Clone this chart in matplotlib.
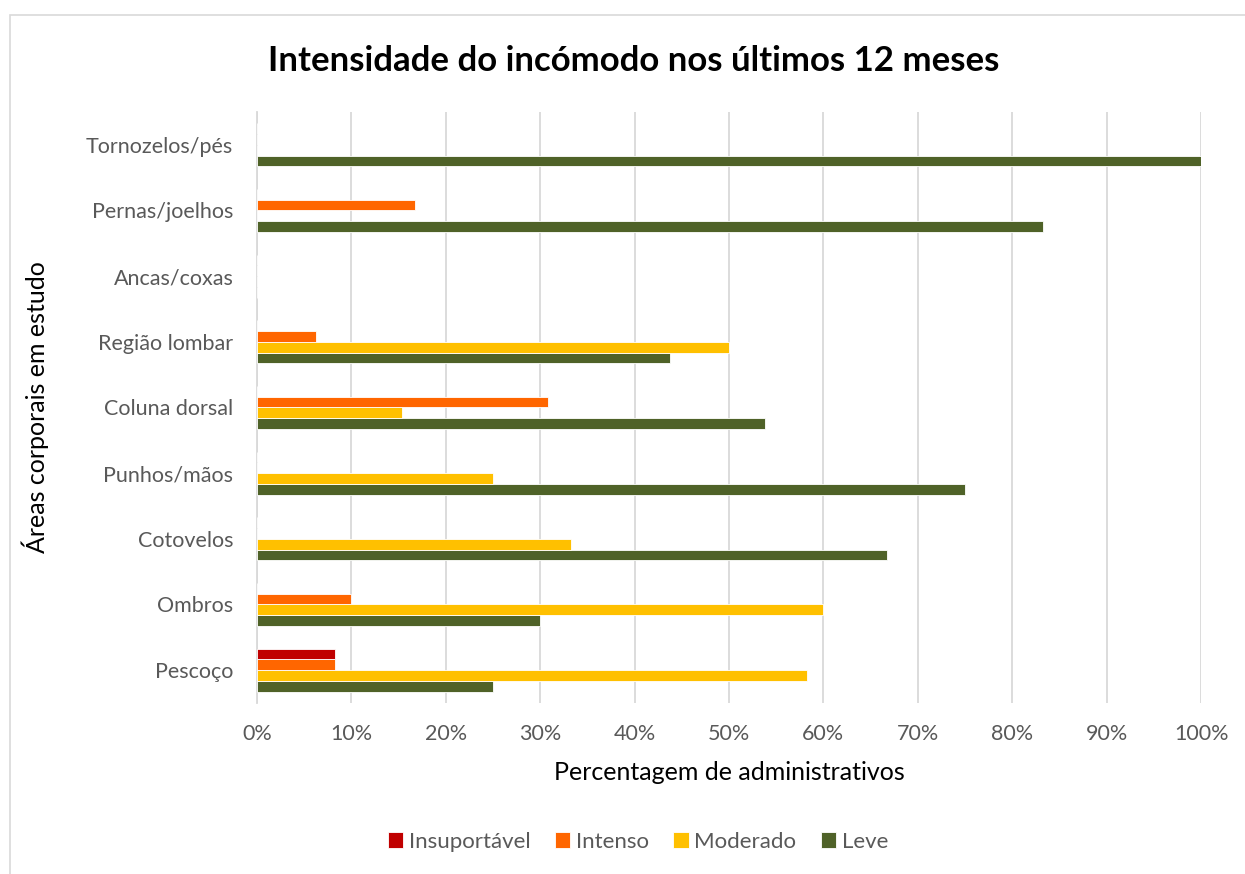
import numpy as np
import matplotlib.pyplot as plt
from matplotlib.patches import Rectangle

plt.rcParams["font.family"] = ["Lato", "DejaVu Sans"]

# body areas, bottom to top
areas = ["Pescoço", "Ombros", "Cotovelos", "Punhos/mãos", "Coluna dorsal",
         "Região lombar", "Ancas/coxas", "Pernas/joelhos", "Tornozelos/pés"]

# percentage of workers per intensity level
leve = [25.0, 30.0, 66.7, 75.0, 53.8, 43.75, 0, 83.3, 100.0]
moderado = [58.3, 60.0, 33.3, 25.0, 15.4, 50.0, 0, 0, 0]
intenso = [8.3, 10.0, 0, 0, 30.8, 6.25, 0, 16.7, 0]
insuportavel = [8.3, 0, 0, 0, 0, 0, 0, 0, 0]

x_ticks = [0, 10, 20, 30, 40, 50, 60, 70, 80, 90, 100]
x_ticklabels = ["0%", "10%", "20%", "30%", "40%", "50%", "60%",
                "70%", "80%", "90%", "100%"]

fig = plt.figure(figsize=(12.45, 8.74), dpi=100)
ax = fig.add_axes([0.2064, 0.1957, 0.7583, 0.6762])

# grouped horizontal bars, Leve at the bottom of each group
y = np.arange(len(areas))
h = 0.164
series = [
    (leve, "Leve", "#4F6228", -1.5),
    (moderado, "Moderado", "#FFC000", -0.5),
    (intenso, "Intenso", "#FF6600", 0.5),
    (insuportavel, "Insuportável", "#C00000", 1.5),
]
for vals, name, col, off in series:
    ax.barh(y + off * h, vals, height=h, color=col, edgecolor="white",
            linewidth=0.6, label=name, zorder=3)

ax.set_xlim(0, 100)
ax.set_ylim(-0.5, len(areas) - 0.5)
ax.set_xticks(x_ticks)
ax.set_xticklabels(x_ticklabels, fontsize=15.5, color="#595959")
ax.set_yticks(y)
ax.set_yticklabels(areas, fontsize=15.5, color="#595959")
ax.tick_params(axis="both", length=0)
ax.tick_params(axis="x", pad=15)
ax.tick_params(axis="y", pad=17)

# vertical gridlines only
ax.grid(axis="x", color="#D9D9D9", linewidth=1.3, zorder=0)
for s in ["top", "right", "bottom"]:
    ax.spines[s].set_visible(False)
ax.spines["left"].set_color("#D9D9D9")
ax.spines["left"].set_linewidth(1.3)

# axis titles
ax.set_xlabel("Percentagem de administrativos", fontsize=18, color="black",
              va="center")
ax.set_ylabel("Áreas corporais em estudo", fontsize=18, color="black",
              va="center")
ax.xaxis.set_label_coords(0.5, (703 - 773) / 591)
ax.yaxis.set_label_coords((35 - 257) / 944, 0.5)

fig.text(634 / 1245, 1 - 61 / 874, "Intensidade do incómodo nos últimos 12 meses",
         fontsize=25, fontweight="bold", ha="center", va="center")

# legend in the order Insuportável, Intenso, Moderado, Leve
handles, labels = ax.get_legend_handles_labels()
leg = fig.legend(handles[::-1], labels[::-1], loc="center",
                 bbox_to_anchor=(638 / 1245, 1 - 842 / 874), ncol=4,
                 frameon=False, fontsize=16, handlelength=0.7,
                 handleheight=0.7, handletextpad=0.25, columnspacing=1.1)
for t in leg.get_texts():
    t.set_color("#595959")

# chart area border
fig.patches.append(Rectangle((10 / 1245, -0.1), 1.2, 1 - 15 / 874 + 0.1,
                             transform=fig.transFigure, fill=False,
                             edgecolor="#D9D9D9", linewidth=1.2))

plt.savefig("out.png", dpi=100)
